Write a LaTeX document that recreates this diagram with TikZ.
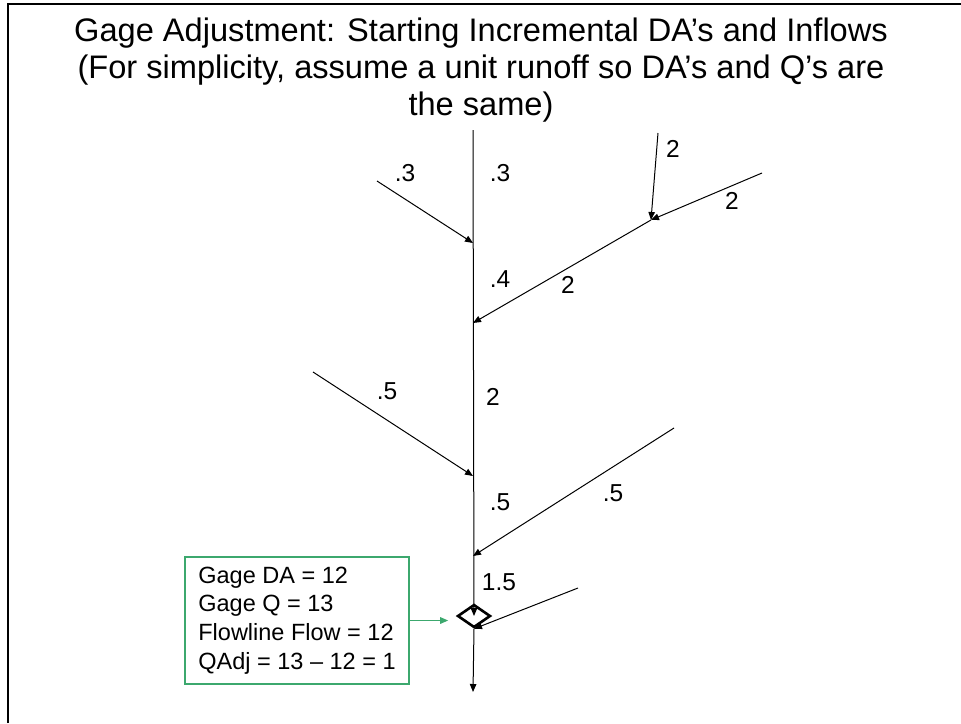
\documentclass[tikz,border=0pt]{standalone}
\usepackage{fontspec}
\setmainfont{Liberation Sans}
\usetikzlibrary{arrows.meta,shapes.geometric}
\definecolor{gagegreen}{RGB}{60,168,110}
\tikzset{
  >={Triangle[length=8pt,width=6.5pt]},
  reach/.style={->,line width=1pt,draw=black},
  lbl/.style={font=\fontsize{24.5}{27}\selectfont,inner sep=0pt},
  gagebox/.style={draw=gagegreen,line width=1.6pt,minimum width=224pt,minimum height=127pt,
    inner xsep=4pt,align=left,font=\fontsize{23.5}{28.7}\selectfont},
  gageflow/.style={->,line width=1.4pt,draw=gagegreen,>={Triangle[length=8pt,width=6.5pt]}},
}

\begin{document}
\begin{tikzpicture}[x=1pt,y=-1pt]
  \useasboundingbox (0,0) rectangle (961,723);
  % frame
  \draw[line width=2pt] (8,723) -- (8,4) -- (961,4);
  % title
  \node[font=\fontsize{32.6}{37}\selectfont,align=center] (title) at (481,70)
    {Gage Adjustment: Starting Incremental DA’s and Inflows\\
     (For simplicity, assume a unit runoff so DA’s and Q’s are\\ the same)};
  % main stem
  \coordinate (top) at (473,130);
  \coordinate (j1) at (473,243);
  \coordinate (j2) at (473,323);
  \coordinate (j3) at (473,476);
  \coordinate (j4) at (473,556);
  \coordinate (out) at (473,692);
  \node[diamond,draw,line width=2.6pt,minimum width=33pt,minimum height=23pt,inner sep=0pt] (gage) at (474,616) {};
  % tributaries
  \coordinate (t1) at (377,181);
  \coordinate (fork) at (651,220);
  \coordinate (f1) at (658,133);
  \coordinate (f2) at (762,173);
  \coordinate (t3) at (313,372);
  \coordinate (t4) at (674,428);
  \coordinate (t5) at (578,588);
  \draw[reach] (top) -- (gage.center);
  \draw[reach] (gage.south) -- (out);
  \draw[reach] (t1) -- (j1);
  \draw[reach] (fork) -- (j2);
  \draw[reach] (f1) -- (fork);
  \draw[reach] (f2) -- (fork);
  \draw[reach] (t3) -- (j3);
  \draw[reach] (t4) -- (j4);
  \draw[reach] (t5) -- (gage.south);
  % flows
  \node[lbl] (q1) at (405,173) {.3};
  \node[lbl] (q2) at (500,173) {.3};
  \node[lbl] (q3) at (500,279) {.4};
  \node[lbl] (q4) at (568,285) {2};
  \node[lbl] (q5) at (673,149) {2};
  \node[lbl] (q6) at (732,201) {2};
  \node[lbl] (q7) at (387,391) {.5};
  \node[lbl] (q8) at (493,397) {2};
  \node[lbl] (q9) at (500,502) {.5};
  \node[lbl] (q10) at (613,493) {.5};
  \node[lbl] (q11) at (499,582) {1.5};
  % gage info
  \node[gagebox] (box) at (297,620.5)
    {Gage DA = 12\\Gage Q = 13\\Flowline Flow = 12\\QAdj = 13 – 12 = 1};
  \draw[gageflow,shorten >=8pt] (box.east) -- (gage.west |- box.east);
\end{tikzpicture}
\end{document}
